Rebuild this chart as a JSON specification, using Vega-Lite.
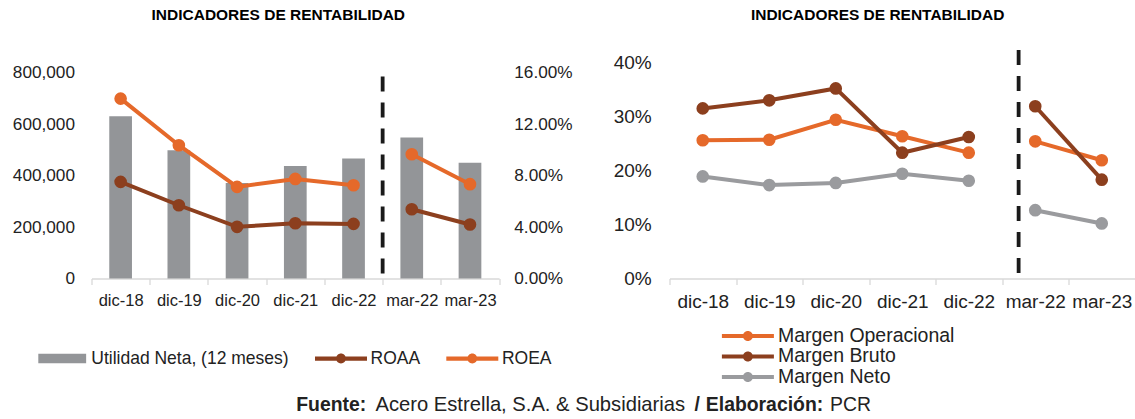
{
  "$schema": "https://vega.github.io/schema/vega-lite/v6.json",
  "padding": {"left": 11.5, "top": 7.3, "right": 0, "bottom": 0},
  "background": "white",
  "config": {
    "view": {"stroke": null},
    "font": "Liberation Sans",
    "axis": {"labelFont": "Liberation Sans", "labelColor": "#222222", "grid": false, "title": null},
    "legend": {"labelFont": "Liberation Sans", "labelColor": "#222222"}
  },
  "datasets": {
    "utilidad": [
      {"periodo": "dic-18", "serie": "Utilidad Neta, (12 meses)", "valor": 631000},
      {"periodo": "dic-19", "serie": "Utilidad Neta, (12 meses)", "valor": 499000},
      {"periodo": "dic-20", "serie": "Utilidad Neta, (12 meses)", "valor": 372000},
      {"periodo": "dic-21", "serie": "Utilidad Neta, (12 meses)", "valor": 438000},
      {"periodo": "dic-22", "serie": "Utilidad Neta, (12 meses)", "valor": 467000},
      {"periodo": "mar-22", "serie": "Utilidad Neta, (12 meses)", "valor": 549000},
      {"periodo": "mar-23", "serie": "Utilidad Neta, (12 meses)", "valor": 450000}
    ],
    "rent": [
      {"periodo": "dic-18", "serie": "ROAA", "grupo": "anual", "valor": 0.0752},
      {"periodo": "dic-19", "serie": "ROAA", "grupo": "anual", "valor": 0.0570},
      {"periodo": "dic-20", "serie": "ROAA", "grupo": "anual", "valor": 0.0402},
      {"periodo": "dic-21", "serie": "ROAA", "grupo": "anual", "valor": 0.0430},
      {"periodo": "dic-22", "serie": "ROAA", "grupo": "anual", "valor": 0.0425},
      {"periodo": "mar-22", "serie": "ROAA", "grupo": "trimestral", "valor": 0.0539},
      {"periodo": "mar-23", "serie": "ROAA", "grupo": "trimestral", "valor": 0.0420},
      {"periodo": "dic-18", "serie": "ROEA", "grupo": "anual", "valor": 0.1400},
      {"periodo": "dic-19", "serie": "ROEA", "grupo": "anual", "valor": 0.1037},
      {"periodo": "dic-20", "serie": "ROEA", "grupo": "anual", "valor": 0.0713},
      {"periodo": "dic-21", "serie": "ROEA", "grupo": "anual", "valor": 0.0775},
      {"periodo": "dic-22", "serie": "ROEA", "grupo": "anual", "valor": 0.0726},
      {"periodo": "mar-22", "serie": "ROEA", "grupo": "trimestral", "valor": 0.0967},
      {"periodo": "mar-23", "serie": "ROEA", "grupo": "trimestral", "valor": 0.0734}
    ],
    "margenes": [
      {"periodo": "dic-18", "serie": "Margen Operacional", "grupo": "anual", "valor": 0.256},
      {"periodo": "dic-19", "serie": "Margen Operacional", "grupo": "anual", "valor": 0.257},
      {"periodo": "dic-20", "serie": "Margen Operacional", "grupo": "anual", "valor": 0.294},
      {"periodo": "dic-21", "serie": "Margen Operacional", "grupo": "anual", "valor": 0.2635},
      {"periodo": "dic-22", "serie": "Margen Operacional", "grupo": "anual", "valor": 0.233},
      {"periodo": "mar-22", "serie": "Margen Operacional", "grupo": "trimestral", "valor": 0.254},
      {"periodo": "mar-23", "serie": "Margen Operacional", "grupo": "trimestral", "valor": 0.219},
      {"periodo": "dic-18", "serie": "Margen Bruto", "grupo": "anual", "valor": 0.315},
      {"periodo": "dic-19", "serie": "Margen Bruto", "grupo": "anual", "valor": 0.330},
      {"periodo": "dic-20", "serie": "Margen Bruto", "grupo": "anual", "valor": 0.352},
      {"periodo": "dic-21", "serie": "Margen Bruto", "grupo": "anual", "valor": 0.233},
      {"periodo": "dic-22", "serie": "Margen Bruto", "grupo": "anual", "valor": 0.262},
      {"periodo": "mar-22", "serie": "Margen Bruto", "grupo": "trimestral", "valor": 0.319},
      {"periodo": "mar-23", "serie": "Margen Bruto", "grupo": "trimestral", "valor": 0.183},
      {"periodo": "dic-18", "serie": "Margen Neto", "grupo": "anual", "valor": 0.189},
      {"periodo": "dic-19", "serie": "Margen Neto", "grupo": "anual", "valor": 0.173},
      {"periodo": "dic-20", "serie": "Margen Neto", "grupo": "anual", "valor": 0.177},
      {"periodo": "dic-21", "serie": "Margen Neto", "grupo": "anual", "valor": 0.194},
      {"periodo": "dic-22", "serie": "Margen Neto", "grupo": "anual", "valor": 0.181},
      {"periodo": "mar-22", "serie": "Margen Neto", "grupo": "trimestral", "valor": 0.1265},
      {"periodo": "mar-23", "serie": "Margen Neto", "grupo": "trimestral", "valor": 0.102}
    ],
    "corte": [{"periodo": "mar-22"}],
    "pie": [
      {"id": 1, "parte": "Fuente:"},
      {"id": 2, "parte": "Acero Estrella, S.A.  & Subsidiarias"},
      {"id": 3, "parte": "/"},
      {"id": 4, "parte": "Elaboración:"},
      {"id": 5, "parte": "PCR"}
    ]
  },
  "vconcat": [
    {
      "hconcat": [
        {
          "title": {"text": "INDICADORES DE RENTABILIDAD", "fontSize": 15.5, "fontWeight": "bold", "color": "#000000", "anchor": "middle", "frame": "group", "baseline": "alphabetic", "offset": 10.9, "dx": -17, "font": "Liberation Sans"},
          "width": 407.6,
          "height": 232.2,
          "layer": [
            {
              "layer": [
                {
                  "data": {"name": "utilidad"},
                  "mark": {"type": "bar", "width": {"band": 0.39}},
                  "encoding": {
                    "x": {"field": "periodo", "type": "nominal", "scale": {"type": "band", "domain": ["dic-18", "dic-19", "dic-20", "dic-21", "dic-22", "mar-22", "mar-23"], "paddingInner": 0, "paddingOuter": 0}, "axis": {"labelAngle": 0, "labelFontSize": 16.5, "labelPadding": 7.7, "tickBand": "extent", "tickSize": 6, "tickColor": "#d9d9d9", "tickWidth": 1.3, "domainColor": "#d9d9d9", "domainWidth": 1.5, "title": null}},
                    "y": {"field": "valor", "type": "quantitative", "scale": {"domain": [0, 903500], "nice": false}, "axis": {"orient": "left", "values": [0, 200000, 400000, 600000, 800000], "format": ",.0f", "domain": false, "ticks": false, "tickSize": 0, "labelPadding": 17, "labelFontSize": 17.2, "title": null}},
                    "color": {
                      "field": "serie", "type": "nominal",
                      "scale": {"domain": ["Utilidad Neta, (12 meses)", "ROAA", "ROEA"], "range": ["#939598", "#8C3F1E", "#E5692A"]},
                      "legend": {
                        "title": null, "orient": "none", "legendX": -55.8, "legendY": 286, "direction": "horizontal",
                        "labelFontSize": 17.5, "labelOffset": 3.6, "columnPadding": 25.3, "labelLimit": 0, "symbolSize": 2704, "symbolOpacity": 1,
                        "encode": {"symbols": {"update": {
                          "shape": {"signal": "datum.value === 'Utilidad Neta, (12 meses)' ? 'M-0.9,-0.18H0.94V0.18H-0.9Z' : 'M-1,-0.08H1V0.08H-1Z M-0.19,0A0.19,0.19 0 1,1 0.19,0A0.19,0.19 0 1,1 -0.19,0Z'"},
                          "fill": {"signal": "datum.value === 'ROAA' ? '#8C3F1E' : datum.value === 'ROEA' ? '#E5692A' : '#939598'"},
                          "stroke": {"value": "transparent"},
                          "strokeWidth": {"value": 0},
                          "opacity": {"value": 1}
                        }}}
                      }
                    }
                  }
                },
                {
                  "data": {"name": "corte"},
                  "mark": {"type": "rule", "color": "#1a1a1a", "strokeWidth": 3.8, "strokeDash": [15, 11]},
                  "encoding": {
                    "x": {"field": "periodo", "type": "nominal", "bandPosition": 0, "scale": {"type": "band", "domain": ["dic-18", "dic-19", "dic-20", "dic-21", "dic-22", "mar-22", "mar-23"], "paddingInner": 0, "paddingOuter": 0}},
                    "y": {"datum": 19500, "type": "quantitative"},
                    "y2": {"datum": 795000}
                  }
                }
              ]
            },
            {
              "data": {"name": "rent"},
              "encoding": {
                "x": {"field": "periodo", "type": "nominal", "scale": {"type": "band", "domain": ["dic-18", "dic-19", "dic-20", "dic-21", "dic-22", "mar-22", "mar-23"], "paddingInner": 0, "paddingOuter": 0}},
                "y": {"field": "valor", "type": "quantitative", "scale": {"domain": [0, 0.1807], "nice": false}, "axis": {"orient": "right", "values": [0, 0.04, 0.08, 0.12, 0.16], "format": ".2%", "domain": false, "ticks": false, "tickSize": 0, "labelPadding": 14.7, "labelFontSize": 17.2, "title": null}},
                "color": {"field": "serie", "type": "nominal", "scale": {"domain": ["Utilidad Neta, (12 meses)", "ROAA", "ROEA"], "range": ["#939598", "#8C3F1E", "#E5692A"]}},
                "detail": {"field": "grupo"}
              },
              "layer": [
                {"mark": {"type": "line", "strokeWidth": 4}},
                {"mark": {"type": "point", "filled": true, "size": 160, "opacity": 1}}
              ]
            }
          ],
          "resolve": {"scale": {"y": "independent"}}
        },
        {
          "title": {"text": "INDICADORES DE RENTABILIDAD", "fontSize": 15.5, "fontWeight": "bold", "color": "#000000", "anchor": "middle", "frame": "group", "baseline": "alphabetic", "offset": 10.9, "dx": -24.6, "font": "Liberation Sans"},
          "width": 465.5,
          "height": 232.2,
          "layer": [
            {
              "data": {"name": "corte"},
              "mark": {"type": "rule", "color": "#1a1a1a", "strokeWidth": 3.8, "strokeDash": [15, 11]},
              "encoding": {
                "x": {"field": "periodo", "type": "nominal", "bandPosition": 0.25, "scale": {"type": "band", "domain": ["dic-18", "dic-19", "dic-20", "dic-21", "dic-22", "mar-22", "mar-23"], "paddingInner": 0, "paddingOuter": 0}, "axis": {"labelAngle": 0, "labelFontSize": 19, "labelPadding": 7.7, "tickBand": "extent", "tickSize": 6, "tickColor": "#d9d9d9", "tickWidth": 1.3, "domainColor": "#d9d9d9", "domainWidth": 1.5, "title": null}},
                "y": {"datum": 0.0104, "type": "quantitative", "scale": {"domain": [0, 0.43], "nice": false}, "axis": {"orient": "left", "values": [0, 0.1, 0.2, 0.3, 0.4], "format": ".0%", "domain": false, "ticks": false, "tickSize": 0, "labelPadding": 18.3, "labelFontSize": 19, "title": null}},
                "y2": {"datum": 0.426}
              }
            },
            {
              "data": {"name": "margenes"},
              "encoding": {
                "x": {"field": "periodo", "type": "nominal", "scale": {"type": "band", "domain": ["dic-18", "dic-19", "dic-20", "dic-21", "dic-22", "mar-22", "mar-23"], "paddingInner": 0, "paddingOuter": 0}, "axis": {"labelAngle": 0, "labelFontSize": 19, "labelPadding": 7.7, "tickBand": "extent", "tickSize": 6, "tickColor": "#d9d9d9", "tickWidth": 1.3, "domainColor": "#d9d9d9", "domainWidth": 1.5, "title": null}},
                "y": {"field": "valor", "type": "quantitative", "scale": {"domain": [0, 0.43], "nice": false}, "axis": {"orient": "left", "values": [0, 0.1, 0.2, 0.3, 0.4], "format": ".0%", "domain": false, "ticks": false, "tickSize": 0, "labelPadding": 18.3, "labelFontSize": 19, "title": null}},
                "color": {
                  "field": "serie", "type": "nominal",
                  "scale": {"domain": ["Margen Operacional", "Margen Bruto", "Margen Neto"], "range": ["#E5692A", "#8C3F1E", "#9A9B9E"]},
                  "legend": {
                    "title": null, "orient": "none", "legendX": 52.4, "legendY": 279.6, "direction": "vertical",
                    "labelFontSize": 19.5, "labelOffset": 36, "rowPadding": 0.5, "labelLimit": 0, "symbolSize": 400, "symbolOpacity": 1,
                    "encode": {"symbols": {"update": {
                      "shape": {"value": "M-1,-0.2H4.2V0.2H-1Z M1.1,0A0.5,0.5 0 1,1 2.1,0A0.5,0.5 0 1,1 1.1,0Z"},
                      "fill": {"signal": "datum.value === 'Margen Operacional' ? '#E5692A' : datum.value === 'Margen Bruto' ? '#8C3F1E' : '#9A9B9E'"},
                      "stroke": {"value": "transparent"},
                      "strokeWidth": {"value": 0},
                      "opacity": {"value": 1}
                    }}}
                  }
                },
                "detail": {"field": "grupo"}
              },
              "layer": [
                {"mark": {"type": "line", "strokeWidth": 4}},
                {"mark": {"type": "point", "filled": true, "size": 160, "opacity": 1}}
              ]
            }
          ]
        }
      ],
      "spacing": 170,
      "bounds": "flush",
      "resolve": {"scale": {"color": "independent", "x": "independent", "y": "independent"}, "legend": {"color": "independent"}}
    },
    {
      "width": 990.6,
      "height": 20,
      "data": {"name": "pie"},
      "layer": [
        {"transform": [{"filter": "datum.id == 1"}], "mark": {"type": "text", "fontWeight": "bold", "fontSize": 19.4, "align": "center", "baseline": "alphabetic", "dx": -255.6, "color": "#222222", "font": "Liberation Sans"}, "encoding": {"text": {"field": "parte"}}},
        {"transform": [{"filter": "datum.id == 2"}], "mark": {"type": "text", "fontWeight": "normal", "fontSize": 20.2, "align": "center", "baseline": "alphabetic", "dx": -56.5, "color": "#222222", "font": "Liberation Sans"}, "encoding": {"text": {"field": "parte"}}},
        {"transform": [{"filter": "datum.id == 3"}], "mark": {"type": "text", "fontWeight": "bold", "fontSize": 19.4, "align": "center", "baseline": "alphabetic", "dx": 110.4, "color": "#222222", "font": "Liberation Sans"}, "encoding": {"text": {"field": "parte"}}},
        {"transform": [{"filter": "datum.id == 4"}], "mark": {"type": "text", "fontWeight": "bold", "fontSize": 19.4, "align": "center", "baseline": "alphabetic", "dx": 177.7, "color": "#222222", "font": "Liberation Sans"}, "encoding": {"text": {"field": "parte"}}},
        {"transform": [{"filter": "datum.id == 5"}], "mark": {"type": "text", "fontWeight": "normal", "fontSize": 19.4, "align": "center", "baseline": "alphabetic", "dx": 263.7, "color": "#222222", "font": "Liberation Sans"}, "encoding": {"text": {"field": "parte"}}}
      ]
    }
  ],
  "spacing": 354.6,
  "bounds": "flush",
  "resolve": {"scale": {"color": "independent"}, "legend": {"color": "independent"}}
}
